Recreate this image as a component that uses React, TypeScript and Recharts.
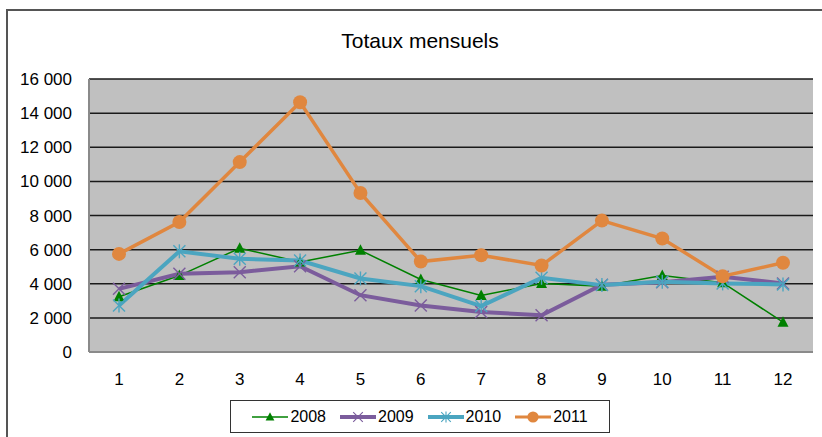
import React from 'react'
import {
  LineChart,
  Line,
  XAxis,
  YAxis,
  CartesianGrid,
  Legend,
} from 'recharts'

const months = ['1', '2', '3', '4', '5', '6', '7', '8', '9', '10', '11', '12']
const y2008 = [3240, 4480, 6080, 5280, 5960, 4250, 3310, 4020, 3860, 4480, 4060, 1750]
const y2009 = [3700, 4580, 4680, 5030, 3330, 2730, 2340, 2150, 3940, 4090, 4410, 4020]
const y2010 = [2730, 5900, 5460, 5360, 4310, 3860, 2690, 4350, 3920, 4120, 4020, 3960]
const y2011 = [5750, 7620, 11130, 14640, 9320, 5300, 5670, 5070, 7700, 6650, 4440, 5230]
const yTicks = [0, 2000, 4000, 6000, 8000, 10000, 12000, 14000, 16000]

const FONT = '"Liberation Sans", Arial, sans-serif'

const C2008 = '#008000'
const C2009 = '#7B5C9C'
const C2010 = '#4BA5C0'
const C2011 = '#E0873F'
const FRAME = '#8a8a8a'

const data = months.map((m, i) => ({
  month: m,
  s2008: y2008[i],
  s2009: y2009[i],
  s2010: y2010[i],
  s2011: y2011[i],
}))

const fmt = (v: number) => (v >= 1000 ? `${Math.floor(v / 1000)} ${String(v % 1000).padStart(3, '0')}` : String(v))

type Shape = 'triangle' | 'x' | 'star' | 'circle'

function Marker({ shape, cx, cy, color }: { shape: Shape; cx: number; cy: number; color: string }) {
  if (shape === 'triangle') {
    return <polygon points={`${cx},${cy - 6} ${cx + 5.5},${cy + 4.5} ${cx - 5.5},${cy + 4.5}`} fill={color} />
  }
  if (shape === 'x') {
    return (
      <g stroke={color} strokeWidth={1.4}>
        <line x1={cx - 6} y1={cy - 6} x2={cx + 6} y2={cy + 6} />
        <line x1={cx - 6} y1={cy + 6} x2={cx + 6} y2={cy - 6} />
      </g>
    )
  }
  if (shape === 'star') {
    return (
      <g stroke={color} strokeWidth={1.4}>
        <line x1={cx - 6} y1={cy - 6} x2={cx + 6} y2={cy + 6} />
        <line x1={cx - 6} y1={cy + 6} x2={cx + 6} y2={cy - 6} />
        <line x1={cx} y1={cy - 7} x2={cx} y2={cy + 7} />
      </g>
    )
  }
  return <circle cx={cx} cy={cy} r={7} fill={color} />
}

const dotFor = (shape: Shape, color: string) =>
  (props: { cx?: number; cy?: number; index?: number }) => (
    <Marker key={`${shape}-${props.index}`} shape={shape} cx={props.cx ?? 0} cy={props.cy ?? 0} color={color} />
  )

const legendItems: { label: string; color: string; width: number; shape: Shape }[] = [
  { label: '2008', color: C2008, width: 1.5, shape: 'triangle' },
  { label: '2009', color: C2009, width: 4, shape: 'x' },
  { label: '2010', color: C2010, width: 4, shape: 'star' },
  { label: '2011', color: C2011, width: 3, shape: 'circle' },
]

function LegendBox() {
  return (
    <div
      style={{
        border: '1px solid #333',
        background: '#fff',
        height: 31,
        display: 'flex',
        alignItems: 'center',
        justifyContent: 'center',
        gap: 14,
        fontFamily: FONT,
        fontSize: 16,
        color: '#000',
      }}
    >
      {legendItems.map((it) => (
        <div key={it.label} style={{ display: 'flex', alignItems: 'center', gap: 2 }}>
          <svg width={36} height={16}>
            <line x1={0} y1={8} x2={36} y2={8} stroke={it.color} strokeWidth={it.width} strokeLinecap="round" />
            <g transform="translate(18,8) scale(0.8) translate(-18,-8)">
              <Marker shape={it.shape} cx={18} cy={8} color={it.color} />
            </g>
          </svg>
          <span>{it.label}</span>
        </div>
      ))}
    </div>
  )
}

export default function App() {
  return (
    <div style={{ position: 'absolute', left: 0, top: 0, width: 822, height: 437, background: '#fff', overflow: 'hidden' }}>
      <div
        style={{
          position: 'absolute',
          left: 6,
          top: 9,
          width: 830,
          height: 440,
          borderLeft: '2px solid #555',
          borderTop: '2px solid #555',
        }}
      />
      <div
        style={{
          position: 'absolute',
          left: 0,
          top: 29,
          width: 840,
          textAlign: 'center',
          fontFamily: FONT,
          fontSize: 21,
          color: '#000',
        }}
      >
        Totaux mensuels
      </div>
      <div style={{ position: 'absolute', left: 0, top: 0 }}>
        <LineChart width={822} height={437} data={data} margin={{ top: 79, right: 9, bottom: 22, left: 0 }}>
          <CartesianGrid vertical={false} fill="#C0C0C0" stroke="#1a1a1a" strokeWidth={1.5} />
          <XAxis
            dataKey="month"
            axisLine={{ stroke: FRAME, strokeWidth: 2 }}
            tickLine={false}
            tickSize={0}
            tickMargin={21}
            height={30}
            interval={0}
            padding={{ left: 30, right: 30 }}
            tick={{ fontFamily: FONT, fontSize: 17, fill: '#000' }}
          />
          <XAxis
            xAxisId="top"
            orientation="top"
            dataKey="month"
            height={0}
            tick={false}
            tickLine={false}
            axisLine={{ stroke: FRAME, strokeWidth: 2 }}
          />
          <YAxis
            domain={[0, 16000]}
            ticks={yTicks}
            interval={0}
            width={89}
            axisLine={{ stroke: FRAME, strokeWidth: 2 }}
            tickLine={false}
            tickSize={0}
            tickMargin={17}
            tickFormatter={fmt}
            tick={{ fontFamily: FONT, fontSize: 17, fill: '#000' }}
          />
          <YAxis
            yAxisId="right"
            orientation="right"
            domain={[0, 16000]}
            width={0}
            tick={false}
            tickLine={false}
            axisLine={{ stroke: FRAME, strokeWidth: 2 }}
          />
          <Legend
            verticalAlign="bottom"
            content={() => <LegendBox />}
            wrapperStyle={{ position: 'absolute', left: 230, top: 400, width: 380, height: 33, bottom: 'auto' }}
          />
          <Line
            type="linear"
            dataKey="s2008"
            stroke={C2008}
            strokeWidth={1.5}
            dot={dotFor('triangle', C2008)}
            isAnimationActive={false}
          />
          <Line
            type="linear"
            dataKey="s2009"
            stroke={C2009}
            strokeWidth={4}
            dot={dotFor('x', C2009)}
            isAnimationActive={false}
          />
          <Line
            type="linear"
            dataKey="s2010"
            stroke={C2010}
            strokeWidth={4}
            dot={dotFor('star', C2010)}
            isAnimationActive={false}
          />
          <Line
            type="linear"
            dataKey="s2011"
            stroke={C2011}
            strokeWidth={3.5}
            dot={dotFor('circle', C2011)}
            isAnimationActive={false}
          />
        </LineChart>
      </div>
    </div>
  )
}
